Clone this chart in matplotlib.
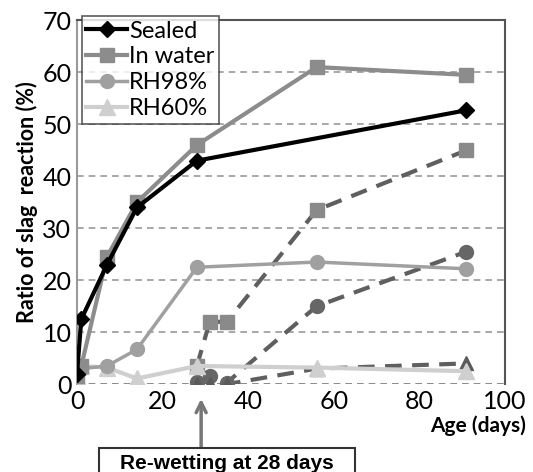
import matplotlib.pyplot as plt
from matplotlib.patches import Rectangle

plt.rcParams['font.family'] = ['Lato', 'DejaVu Sans']

# Cured continuously
sealed_x = [0, 1, 7, 14, 28, 91]
sealed_y = [2, 12.5, 23, 34, 43, 52.7]
water_x = [0, 1, 7, 14, 28, 56, 91]
water_y = [1.5, 3.5, 24.5, 35, 46, 61, 59.5]
rh98_x = [0, 1, 7, 14, 28, 56, 91]
rh98_y = [2, 3, 3.5, 6.7, 22.5, 23.5, 22.2]
rh60_x = [0, 1, 7, 14, 28, 56, 91]
rh60_y = [1.5, 3.5, 3.2, 1.1, 3.5, 3.2, 2.5]

# Re-wetting at 28 days
rw_x = [28, 31, 35, 56, 91]
rw_water_y = [3.5, 12, 12, 33.5, 45]
rw_rh98_y = [0.5, 1.5, 0.3, 15, 25.5]
rw_rh60_y = [0, 0, 0, 3, 4]

yticks = [0, 10, 20, 30, 40, 50, 60, 70]
xticks = [0, 20, 40, 60, 80, 100]

fig = plt.figure(figsize=(5.33, 4.72), dpi=100)
ax = fig.add_axes([0.1445, 0.186, 0.803, 0.771])

for y in yticks[:-1]:
    ax.axhline(y, color='#777777' if y == 0 else '#999999', ls=(0, (4, 3)),
               lw=1.2, zorder=1)

dark = '#5f5f5f'
ax.plot(rw_x, rw_water_y, ls=(0, (4, 2.5)), lw=3, color=dark, zorder=2)
ax.plot(rw_x, rw_rh98_y, ls=(0, (4, 2.5)), lw=3, color=dark, zorder=2)
ax.plot(rw_x, rw_rh60_y, ls=(0, (4, 2.5)), lw=3, color=dark, zorder=2)
ax.plot(rw_x, rw_water_y, ls='none', marker='s', ms=10, color='#8a8a8a', zorder=3)
ax.plot(rw_x, rw_rh98_y, ls='none', marker='o', ms=10, color='#666666', zorder=3)
ax.plot(rw_x, rw_rh60_y, ls='none', marker='^', ms=10, color='#5a5a5a', zorder=3)

ax.plot(rh60_x, rh60_y, marker='^', ms=11, lw=3, color='#cfcfcf', label='RH60%', zorder=4)
ax.plot(rh98_x, rh98_y, marker='o', ms=10, lw=2.5, color='#a0a0a0', label='RH98%', zorder=4)
ax.plot(water_x, water_y, marker='s', ms=10, lw=3, color='#8c8c8c', label='In water', zorder=5)
ax.plot(sealed_x, sealed_y, marker='D', ms=8, lw=3, color='black', label='Sealed', zorder=6)

ax.set_xlim(0, 100)
ax.set_ylim(0, 70)
ax.set_xticks(xticks)
ax.set_yticks(yticks)
ax.tick_params(length=0, labelsize=18, pad=4)
for side in ['top', 'right']:
    ax.spines[side].set_color('#555555')
    ax.spines[side].set_linewidth(1.5)
ax.spines['left'].set_color('#999999')
ax.spines['left'].set_linewidth(1.5)
ax.spines['bottom'].set_visible(False)

ax.set_ylabel('Ratio of slag  reaction (%)', fontsize=15.5, fontweight='bold', labelpad=3)
ax.text(1.05, -0.085, 'Age (days)', transform=ax.transAxes, ha='right', va='top',
        fontsize=15, fontweight='bold')

handles, labels = ax.get_legend_handles_labels()
order = [3, 2, 1, 0]
leg = ax.legend([handles[i] for i in order], [labels[i] for i in order],
                loc='upper left', bbox_to_anchor=(0.0, 1.025), fontsize=17,
                frameon=True, fancybox=False, edgecolor='#333333',
                handlelength=1.7, handletextpad=0.1, borderpad=0.2,
                labelspacing=0.2, borderaxespad=0.2)
leg.get_frame().set_linewidth(1.2)
leg.set_zorder(10)

# Callout box and arrow
box = Rectangle((5.2, -22), 59.8, 9.7, fc='white', ec='#333333', lw=1.5,
                clip_on=False, zorder=5)
ax.add_patch(box)
ax.text(35, -15.2, 'Re-wetting at 28 days', ha='center', va='center',
        fontsize=15, fontweight='bold', family='Liberation Sans', clip_on=False,
        zorder=6)
ax.annotate('', xy=(29, -2.8), xytext=(29, -12.3), annotation_clip=False,
            arrowprops=dict(arrowstyle='->', color='#777777', lw=2.5,
                            mutation_scale=18, shrinkA=0, shrinkB=0))

fig.savefig('out.png', dpi=100)
